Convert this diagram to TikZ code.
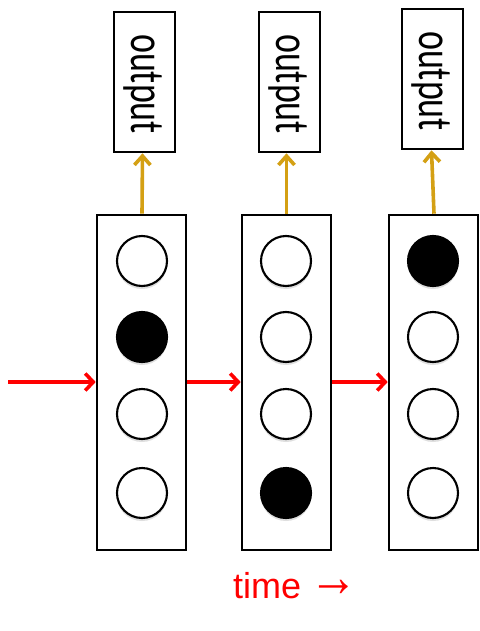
\documentclass[tikz,border=0pt]{standalone}
\usepackage{fontspec}
\setmainfont{Liberation Sans}
\newfontfamily\calfont{Carlito}
\usetikzlibrary{arrows.meta,shadows}
\definecolor{gold}{RGB}{212,160,20}
\definecolor{pptred}{RGB}{255,0,0}
\begin{document}
\begin{tikzpicture}[x=1pt,y=-1pt,
  colbox/.style={draw=black,line width=2.6pt,minimum width=89pt,minimum height=335pt,inner sep=0pt,fill=white},
  outbox/.style={draw=black,line width=2.6pt,minimum width=61pt,minimum height=140pt,inner sep=0pt,fill=white},
  outtext/.style={inner sep=0pt,font=\calfont\fontsize{36}{36}\selectfont},
  unit/.style={circle,draw=black,line width=2.1pt,minimum size=50pt,inner sep=0pt,fill=white,
     drop shadow={opacity=0.25,shadow xshift=0pt,shadow yshift=-3pt}},
  on/.style={fill=black},
  redarrow/.style={draw=pptred,line width=3.6pt,-{Straight Barb[length=8pt,width=17pt,line width=3.6pt]}},
  goldarrow/.style={draw=gold,line width=3.6pt,-{Straight Barb[length=9pt,width=16pt,line width=3.6pt]}}
]
\useasboundingbox (0,0) rectangle (479,631);
% columns
\node[colbox] (c1) at (141.5,382.5) {};
\node[colbox] (c2) at (286.5,382.5) {};
\node[colbox] (c3) at (433.5,382.5) {};
% outputs
\node[outbox] (o1) at (144.5,82) {};
\node[outbox] (o2) at (289.5,82) {};
\node[outbox] (o3) at (432.5,79) {};
\foreach \i in {1,2,3}{
  \node[outtext] (t\i) at ([xshift=-1.5pt,yshift=-2pt]o\i.center) {\rotatebox{-90}{\scalebox{1}[1.35]{output}}};
}
% units
\node[unit] (u11) at (142,261) {};
\node[unit,on] (u12) at (142,337) {};
\node[unit] (u13) at (142,414) {};
\node[unit] (u14) at (142,493) {};
\node[unit] (u21) at (286,261) {};
\node[unit] (u22) at (286,337) {};
\node[unit] (u23) at (286,414) {};
\node[unit,on] (u24) at (286,493) {};
\node[unit,on] (u31) at (433,261) {};
\node[unit] (u32) at (433,337) {};
\node[unit] (u33) at (433,414) {};
\node[unit] (u34) at (433,493) {};
% arrows
\coordinate (in) at (8,382);
\draw[redarrow] (in) -- (c1.west |- in);
\draw[redarrow] (c1.east |- in) -- (c2.west |- in);
\draw[redarrow] (c2.east |- in) -- (c3.west |- in);
\draw[goldarrow] ([xshift=0.5pt]c1.north) -- ([xshift=-2pt]o1.south);
\draw[goldarrow] (c2.north) -- ([xshift=-3pt]o2.south);
\draw[goldarrow] ([xshift=0.5pt]c3.north) -- ([xshift=-1pt]o3.south);
% time label
\node[text=pptred,font=\fontsize{36}{36}\selectfont,inner sep=0pt,anchor=base west] (time) at (233,598) {time\hspace{8pt}\raisebox{2pt}{\scalebox{1.35}[1.6]{\bfseries →}}};
\end{tikzpicture}
\end{document}
